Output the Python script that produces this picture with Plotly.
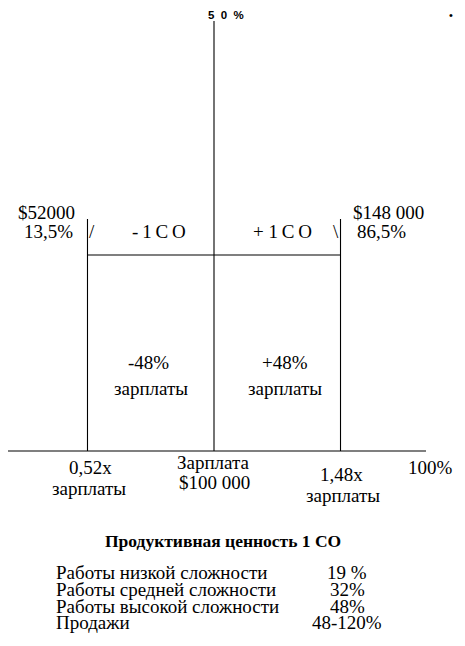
import plotly.graph_objects as go

# ---- data ----
percentiles = [13.5, 50, 86.5]            # salary percentiles of the three positions
salary_labels = ["$52000", "$100 000", "$148 000"]
multipliers = ["0,52x", "1,48x"]
salary_change = [-48, 48]                 # % of salary
co_labels = ["-\u20091\u2009C\u2009O", "+ 1\u2009C\u2009O"]
table_labels = ["Работы низкой сложности", "Работы средней сложности",
                "Работы высокой сложности", "Продажи"]
table_values = ["19 %", "32%", "48%", "48-120%"]
title = "Продуктивная ценность 1 СО"

# page body has an 8px margin; the figure covers reference pixels 8..465 / 8..638
OFF = 8
W, H = 465 - OFF, 646 - 2 * OFF
PX_PER_PCT = 3.466
CENTER_PX = 214


def px(p):
    """reference pixel -> percentile axis units"""
    return 50 + (p - CENTER_PX) / PX_PER_PCT


def pct_txt(v):
    return (f"{v:g}".replace(".", ",")) + "%"


SERIF = "Liberation Serif"
SANS = "Liberation Sans"
BLACK = "#000000"
FS = 19
lw = 1.1

fig = go.Figure()
line = dict(color=BLACK, width=lw)
fig.add_trace(go.Scatter(x=[percentiles[1]] * 2, y=[21, 451], mode="lines", line=line, hoverinfo="skip"))
for p in (percentiles[0], percentiles[2]):
    fig.add_trace(go.Scatter(x=[p, p], y=[219, 451], mode="lines", line=line, hoverinfo="skip"))
fig.add_trace(go.Scatter(x=[percentiles[0], percentiles[2]], y=[255, 255], mode="lines", line=line, hoverinfo="skip"))
fig.add_trace(go.Scatter(x=[px(8), px(426)], y=[451, 451], mode="lines", line=line, hoverinfo="skip"))

ann = []


def T(text, x, y, size=FS, family=SERIF, bold=False, xanchor="center", pad=1):
    if bold:
        text = f"<b>{text}</b>"
    ann.append(dict(text=text, x=x, y=y, xref="x", yref="y", showarrow=False,
                    xanchor=xanchor, yanchor="middle", borderpad=pad,
                    font=dict(family=family, size=size, color=BLACK)))


T("5\u00a0\u00a00\u00a0\u00a0%", px(226), 15, size=11.5, family=SANS, bold=True, pad=0)
T("•", px(451), 15, size=11, family=SANS, pad=0)

T(salary_labels[0], px(46), 212)
T(pct_txt(percentiles[0]), px(48), 231)
T("/", px(92), 231)
T(co_labels[0], px(159), 231)
T(co_labels[1], px(282), 231)
T("\\", px(336), 231)
T(salary_labels[2], px(388), 212)
T(pct_txt(percentiles[2]), px(381), 231)

T(f"{salary_change[0]}%", px(148), 362)
T("зарплаты", px(151), 388)
T(f"+{salary_change[1]}%", px(285), 362)
T("зарплаты", px(285), 388)

T(multipliers[0], px(90), 467)
T("зарплаты", px(89), 488)
T("Зарплата", px(213), 462)
T(salary_labels[1], px(214), 482)
T(multipliers[1], px(341), 474)
T("зарплаты", px(343), 495)
T("100%", px(454), 467, xanchor="right", pad=0)

T(title, px(223), 541, size=17.5, bold=True)
row_y = [572, 589, 606, 622]
for lab, val, y in zip(table_labels, table_values, row_y):
    T(lab, px(55), y, xanchor="left", pad=0)
    T(val, px(347), y, pad=0)

fig.update_layout(
    width=W, height=H,
    margin=dict(l=0, r=0, t=0, b=0),
    paper_bgcolor="white", plot_bgcolor="white",
    showlegend=False,
    xaxis=dict(range=[px(OFF), px(465)], visible=False, fixedrange=True),
    yaxis=dict(range=[OFF + H, OFF], visible=False, fixedrange=True),
    annotations=ann,
)

fig.write_html("out.html")
